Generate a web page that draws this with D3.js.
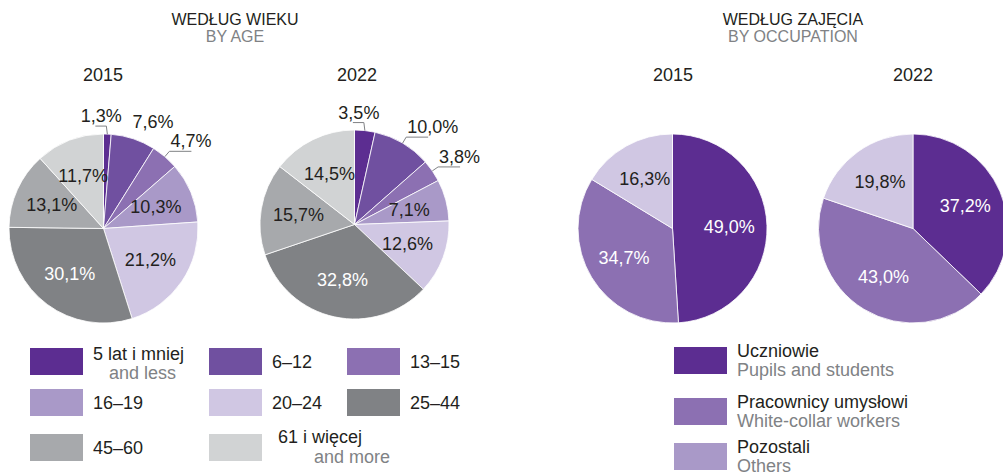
<!DOCTYPE html>
<html>
<head>
<meta charset="utf-8">
<script src="https://cdn.jsdelivr.net/npm/d3@7"></script>
<style>
  body { margin: 0; background: #fff; }
  svg { display: block; font-family: "Liberation Sans", Arial, sans-serif; }
</style>
</head>
<body>
<svg id="chart" width="1003" height="475"></svg>
<script>
// data
var ageCategories = ["5 lat i mniej", "6–12", "13–15", "16–19", "20–24", "25–44", "45–60", "61 i więcej"];
var ageCategoriesEn = ["and less", "", "", "", "", "", "", "and more"];
var age2015 = [1.3, 7.6, 4.7, 10.3, 21.2, 30.1, 13.1, 11.7];
var age2022 = [3.5, 10.0, 3.8, 7.1, 12.6, 32.8, 15.7, 14.5];

var occCategories = ["Uczniowie", "Pracownicy umysłowi", "Pozostali"];
var occCategoriesEn = ["Pupils and students", "White-collar workers", "Others"];
var occ2015 = [49.0, 34.7, 16.3];
var occ2022 = [37.2, 43.0, 19.8];

var years = ["2015", "2022"];

// colours
var ageColors = ["#5c2d91", "#7050a0", "#8c70b2", "#a999c8", "#d0c7e3", "#808285", "#a7a9ac", "#d1d3d4"];
var occColors = ["#5c2d91", "#8c70b2", "#d0c7e3"];
var occLegendColors = ["#5c2d91", "#8c70b2", "#a999c8"];

// label placement per slice: in = inside, out = outside, lead = outside with leader line
var ageMode2015 = ["lead", "out", "lead", "in", "in", "in", "in", "in"];
var ageMode2022 = ["lead", "lead", "lead", "in", "in", "in", "in", "in"];

var svg = d3.select('#chart');
var R = 94.5;
var fmt = function (v) { return d3.format('.1f')(v).replace('.', ',') + '%'; };
var pie = d3.pie().sort(null).value(function (d) { return d; });
var arc = d3.arc().innerRadius(0).outerRadius(R);

var drawPie = function (values, colors, cx, cy, modes) {
    var g = svg.append('g').attr('transform', 'translate(' + cx + ',' + cy + ')');
    var arcs = pie(values);
    g.selectAll('path').data(arcs).enter().append('path')
        .attr('d', arc)
        .attr('fill', function (d, i) { return colors[i]; })
        .attr('stroke', '#fff')
        .attr('stroke-width', 0.8);

    arcs.forEach(function (d, i) {
        var mode = modes ? modes[i] : 'in';
        var mid = (d.startAngle + d.endAngle) / 2;
        if (mode === 'in') {
            var c = d3.arc().innerRadius(0).outerRadius(R * 1.2).centroid(d);
            var light = d3.hsl(colors[i]).l < 0.6;
            g.append('text')
                .attr('x', c[0]).attr('y', c[1])
                .attr('text-anchor', 'middle')
                .attr('dominant-baseline', 'central')
                .attr('font-size', 18)
                .attr('fill', light ? '#fff' : '#231f20')
                .text(fmt(d.value));
        } else {
            var ex = Math.sin(mid) * R, ey = -Math.cos(mid) * R;
            var kx = Math.sin(mid) * (R + 7), ky = -Math.cos(mid) * (R + 7);
            var top = mid < Math.PI / 12;
            if (top) { kx = ex - 1; ky = ey - 8; }
            if (mode === 'lead') {
                var hx = top ? kx - 11 : kx + 22;
                g.append('polyline')
                    .attr('points', [[ex, ey], [kx, ky], [hx, ky]].map(function (p) { return p.join(','); }).join(' '))
                    .attr('fill', 'none')
                    .attr('stroke', '#808285')
                    .attr('stroke-width', 1);
            }
            g.append('text')
                .attr('x', top ? kx - 5 : kx + (mode === 'lead' ? 1 : -3))
                .attr('y', ky - 4)
                .attr('text-anchor', top ? 'middle' : 'start')
                .attr('font-size', 18)
                .attr('fill', '#231f20')
                .text(fmt(d.value));
        }
    });
};

var heading = function (x, pl, en) {
    svg.append('text').attr('x', x).attr('y', 25).attr('text-anchor', 'middle')
        .attr('font-size', 16).attr('fill', '#231f20').text(pl);
    svg.append('text').attr('x', x).attr('y', 41.5).attr('text-anchor', 'middle')
        .attr('font-size', 16).attr('fill', '#808285').text(en);
};
var yearLabel = function (x, t) {
    svg.append('text').attr('x', x).attr('y', 80.5).attr('text-anchor', 'middle')
        .attr('font-size', 18).attr('fill', '#231f20').text(t);
};

heading(235, 'WEDŁUG WIEKU', 'BY AGE');
heading(793, 'WEDŁUG ZAJĘCIA', 'BY OCCUPATION');
yearLabel(103, years[0]);
yearLabel(357, years[1]);
yearLabel(673, years[0]);
yearLabel(913, years[1]);

drawPie(age2015, ageColors, 103.5, 228.5, ageMode2015);
drawPie(age2022, ageColors, 354.5, 224.5, ageMode2022);
drawPie(occ2015, occColors, 672.5, 228.5, null);
drawPie(occ2022, occColors, 913, 228.5, null);

// age legend
var colX = [30, 209, 347], rowY = [348, 389, 434];
var subDx = [16, 0, 0, 0, 0, 0, 0, 36];
ageCategories.forEach(function (name, i) {
    var x = colX[i % 3], y = rowY[Math.floor(i / 3)];
    svg.append('rect').attr('x', x).attr('y', y).attr('width', 53).attr('height', 27)
        .attr('fill', ageColors[i]);
    var cy = y + 13.5;
    var tx = x + 63 + (i === 7 ? 6 : 0);
    if (ageCategoriesEn[i]) {
        svg.append('text').attr('x', tx).attr('y', cy - (i === 7 ? 4.5 : 2))
            .attr('font-size', 18).attr('fill', '#231f20').text(name);
        svg.append('text').attr('x', tx + subDx[i]).attr('y', cy + (i === 7 ? 15.5 : 17))
            .attr('font-size', 18).attr('fill', '#808285').text(ageCategoriesEn[i]);
    } else {
        svg.append('text').attr('x', tx).attr('y', cy + 6.5)
            .attr('font-size', 18).attr('fill', '#231f20').text(name);
    }
});

// occupation legend
var occRowY = [347, 398, 443];
occCategories.forEach(function (name, i) {
    var y = occRowY[i];
    svg.append('rect').attr('x', 674).attr('y', y).attr('width', 53).attr('height', 27)
        .attr('fill', occLegendColors[i]);
    svg.append('text').attr('x', 737).attr('y', y + 10)
        .attr('font-size', 18).attr('fill', '#231f20').text(name);
    svg.append('text').attr('x', 737).attr('y', y + 29)
        .attr('font-size', 18).attr('fill', '#808285').text(occCategoriesEn[i]);
});
</script>
</body>
</html>
